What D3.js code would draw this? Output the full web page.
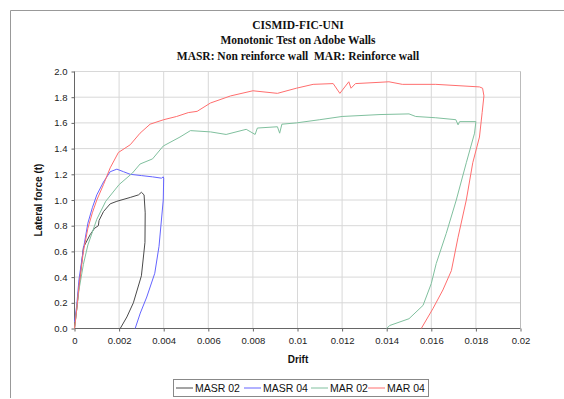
<!DOCTYPE html>
<html>
<head>
<meta charset="utf-8">
<style>
  body { margin: 0; padding: 0; background: #fff; }
  svg { display: block; }
  .tick text { font-family: "Liberation Sans", Arial, sans-serif; font-size: 9.5px; fill: #222; }
  .lbl { font-family: "Liberation Sans", Arial, sans-serif; font-weight: bold; font-size: 10px; fill: #111; }
  .leg { font-family: "Liberation Sans", Arial, sans-serif; font-size: 10.5px; fill: #111; }
</style>
<script src="https://d3js.org/d3.v7.min.js"></script>
</head>
<body>
<script>
// series names and colours
var names = ["MASR 02", "MASR 04", "MAR 02", "MAR 04"];
var colors = ["#4a4a4a", "#6464ff", "#80c09e", "#ff6e6e"];

// drift / force values
var masr02Drift = [0, 0.0001, 0.0002, 0.0004, 0.0007, 0.0009, 0.00107, 0.0011, 0.0013, 0.0016, 0.0019, 0.0025, 0.00287, 0.003, 0.00312, 0.00317, 0.00316, 0.0030, 0.00264, 0.00235, 0.00205];
var masr02Force = [0, 0.15, 0.32, 0.63, 0.73, 0.78, 0.80, 0.84, 0.91, 0.97, 0.99, 1.02, 1.04, 1.06, 1.04, 0.90, 0.67, 0.41, 0.20, 0.09, 0.0];

var masr04Drift = [0, 0.0001, 0.0002, 0.0004, 0.0006, 0.0008, 0.001, 0.0013, 0.0016, 0.0019, 0.0022, 0.0025, 0.003, 0.0035, 0.0039, 0.00398, 0.004, 0.00398, 0.00379, 0.0036, 0.00324, 0.00295, 0.00272];
var masr04Force = [0.05, 0.18, 0.38, 0.62, 0.82, 0.94, 1.04, 1.14, 1.22, 1.24, 1.22, 1.20, 1.19, 1.18, 1.17, 1.18, 1.17, 1.0, 0.64, 0.43, 0.245, 0.12, 0.0];

var mar02Drift = [0, 0.0001, 0.0002, 0.0004, 0.0006, 0.001, 0.0014, 0.002, 0.0026, 0.00294, 0.0035, 0.00398, 0.00473, 0.0052, 0.0061, 0.0068, 0.0077, 0.0081, 0.0082, 0.0091, 0.0092, 0.0093, 0.00995, 0.011, 0.012, 0.0137, 0.015, 0.0153, 0.0162, 0.0171, 0.0172, 0.01727, 0.018, 0.01794, 0.01757, 0.01712, 0.01667, 0.01622, 0.016, 0.01563, 0.0150, 0.01413, 0.014];
var mar02Force = [0, 0.15, 0.3, 0.5, 0.65, 0.85, 0.99, 1.12, 1.21, 1.28, 1.32, 1.42, 1.49, 1.54, 1.53, 1.51, 1.55, 1.51, 1.56, 1.57, 1.52, 1.59, 1.60, 1.625, 1.65, 1.665, 1.67, 1.65, 1.64, 1.625, 1.585, 1.61, 1.61, 1.52, 1.29, 1.0, 0.74, 0.505, 0.35, 0.18, 0.076, 0.023, 0.0];

var mar04Drift = [0, 0.0001, 0.0002, 0.0004, 0.0006, 0.0008, 0.001, 0.0013, 0.0016, 0.00197, 0.0025, 0.00294, 0.00339, 0.004, 0.00458, 0.0051, 0.0055, 0.0061, 0.007, 0.008, 0.0091, 0.00995, 0.0107, 0.0116, 0.0119, 0.0123, 0.0124, 0.0126, 0.0137, 0.0141, 0.0147, 0.0162, 0.01816, 0.0183, 0.01836, 0.01828, 0.01816, 0.01786, 0.01757, 0.0172, 0.0169, 0.01652, 0.01607, 0.01555];
var mar04Force = [0, 0.15, 0.33, 0.6, 0.78, 0.9, 1.0, 1.12, 1.25, 1.37, 1.43, 1.52, 1.59, 1.625, 1.65, 1.68, 1.69, 1.755, 1.81, 1.85, 1.83, 1.87, 1.90, 1.906, 1.83, 1.92, 1.87, 1.906, 1.916, 1.92, 1.90, 1.90, 1.88, 1.87, 1.81, 1.68, 1.49, 1.29, 1.0, 0.71, 0.45, 0.30, 0.154, 0.0];

var xTicks = [0, 0.002, 0.004, 0.006, 0.008, 0.01, 0.012, 0.014, 0.016, 0.018, 0.02];
var yTicks = [0, 0.2, 0.4, 0.6, 0.8, 1.0, 1.2, 1.4, 1.6, 1.8, 2.0];
var titles = ["CISMID-FIC-UNI", "Monotonic Test on Adobe Walls", "MASR: Non reinforce wall\u00a0\u00a0MAR: Reinforce wall"];

var series = [
  {name: names[0], x: masr02Drift, y: masr02Force},
  {name: names[1], x: masr04Drift, y: masr04Force},
  {name: names[2], x: mar02Drift, y: mar02Force},
  {name: names[3], x: mar04Drift, y: mar04Force}
];

var W = 564, H = 399;
var svg = d3.select("body").append("svg").attr("width", W).attr("height", H);

// outer chart frame
svg.append("path").attr("d", "M10.5,398 V10.5 H564").attr("fill", "none").attr("stroke", "#999").attr("stroke-width", 1);

var x = d3.scaleLinear().domain([0, 0.02]).range([74.5, 520.5]);
var y = d3.scaleLinear().domain([0, 2]).range([328.5, 71.5]);

// titles
svg.selectAll(".ttl").data(titles).enter().append("text")
  .attr("x", 298).attr("y", function(d, i) { return 29 + i * 15.3; })
  .attr("text-anchor", "middle")
  .attr("font-family", "Liberation Serif, DejaVu Serif, serif")
  .attr("font-weight", "bold").attr("font-size", "11.5px").attr("fill", "#111")
  .text(function(d) { return d; });

// grid
var g = svg.append("g");
g.selectAll(".gx").data(xTicks.slice(1)).enter().append("line")
  .attr("x1", x).attr("x2", x).attr("y1", y(0)).attr("y2", y(2))
  .attr("stroke", "#d8d8d8");
g.selectAll(".gy").data(yTicks.slice(1)).enter().append("line")
  .attr("y1", y).attr("y2", y).attr("x1", x(0)).attr("x2", x(0.02))
  .attr("stroke", "#d8d8d8");

// axes
var xAxis = d3.axisBottom(x).tickValues(xTicks).tickSize(3).tickFormat(function(d) { return d === 0 ? "0" : String(+d.toFixed(3)); });
var yAxis = d3.axisLeft(y).tickValues(yTicks).tickSize(3).tickFormat(d3.format(".1f"));
var gx = svg.append("g").attr("transform", "translate(0," + y(0) + ")").call(xAxis);
var gy = svg.append("g").attr("transform", "translate(" + x(0) + ",0)").call(yAxis);
gx.selectAll("path, line").attr("stroke", "#666");
gy.selectAll("path, line").attr("stroke", "#666");
gx.select(".domain").attr("d", "M" + x(0) + ",0H" + x(0.02));
gy.select(".domain").attr("d", "M0," + y(0) + "V" + y(2));
gx.selectAll("text").attr("dy", "0.95em");
gy.selectAll("text").attr("dx", "-1px");

// right border of plot
svg.append("line").attr("x1", x(0.02)).attr("x2", x(0.02)).attr("y1", y(0)).attr("y2", y(2)).attr("stroke", "#bbb");

// axis labels
svg.append("text").attr("class", "lbl").attr("x", 298).attr("y", 363).attr("text-anchor", "middle").text("Drift");
svg.append("text").attr("class", "lbl").attr("transform", "translate(42,200) rotate(-90)").attr("text-anchor", "middle").text("Lateral force (t)");

// lines
var line = d3.line().x(function(d) { return x(d[0]); }).y(function(d) { return y(d[1]); });
svg.selectAll(".ser").data(series).enter().append("path")
  .attr("d", function(s) { return line(s.x.map(function(v, i) { return [v, s.y[i]]; })); })
  .attr("fill", "none").attr("stroke-width", 1).attr("stroke-linejoin", "round")
  .attr("stroke", function(s, i) { return colors[i]; });

// legend
var lg = svg.append("g");
lg.append("rect").attr("x", 173.5).attr("y", 379.5).attr("width", 255).attr("height", 17)
  .attr("fill", "#fff").attr("stroke", "#888");
var legX = [176, 244, 311, 368];
var item = lg.selectAll(".it").data(names).enter().append("g")
  .attr("transform", function(d, i) { return "translate(" + legX[i] + ",388)"; });
item.append("line").attr("x1", 0).attr("x2", 17).attr("y1", 0).attr("y2", 0)
  .attr("stroke", function(d, i) { return colors[i]; });
item.append("text").attr("class", "leg").attr("x", 19).attr("y", 3.8).text(function(d) { return d; });
</script>
</body>
</html>
